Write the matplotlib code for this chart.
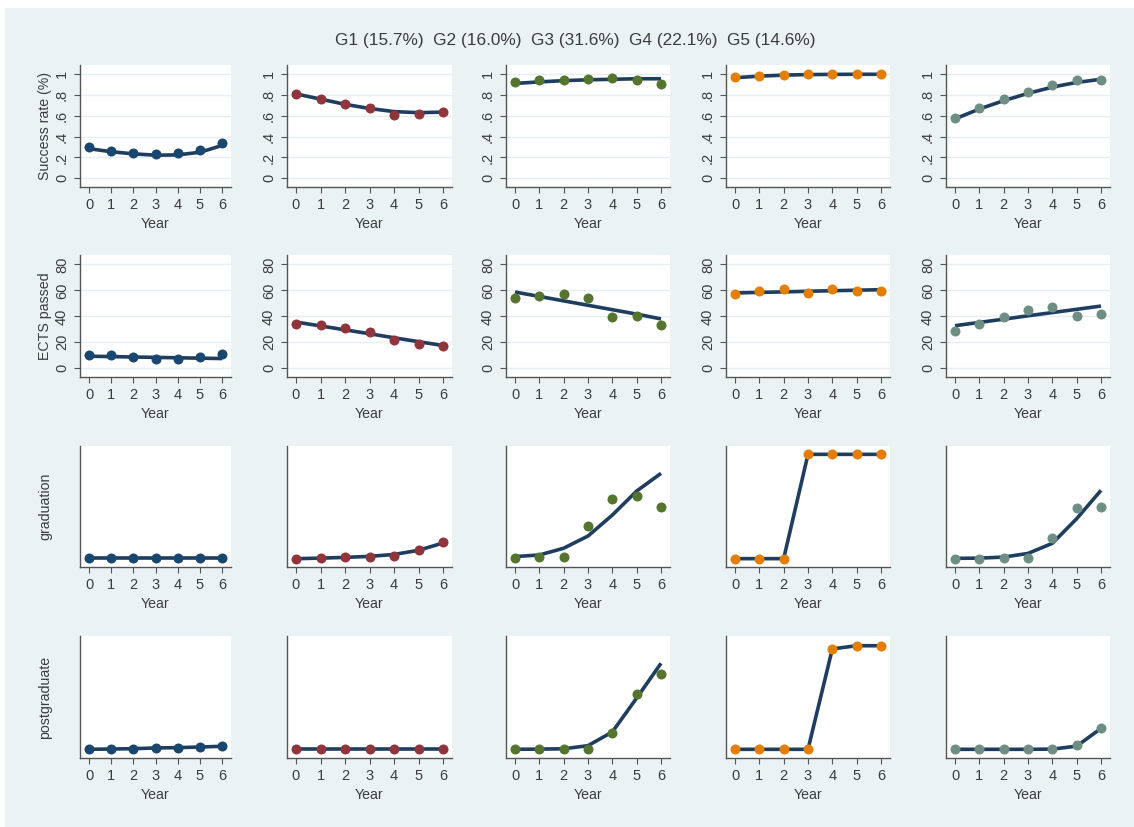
import matplotlib
matplotlib.use("Agg")
import matplotlib.pyplot as plt
from matplotlib.patches import Rectangle

plt.rcParams.update({"font.family": ["Liberation Sans", "DejaVu Sans"],
                     "font.size": 9})

BG = "#eaf2f3"; INK = "#3c3c3c"; FIT = "#1f3d5e"
years = [0, 1, 2, 3, 4, 5, 6]
groups = ["G1", "G2", "G3", "G4", "G5"]
shares = [15.7, 16.0, 31.6, 22.1, 14.6]
group_colors = ["#1a476f", "#90353b", "#55752f", "#e37e00", "#6e8e84"]

# observed means (points) and fitted values (line), one row per group
success_obs = [[0.30, 0.265, 0.245, 0.233, 0.245, 0.27, 0.34],
               [0.81, 0.763, 0.712, 0.674, 0.607, 0.62, 0.639],
               [0.926, 0.94, 0.945, 0.949, 0.959, 0.945, 0.907],
               [0.974, 0.984, 0.99, 0.998, 1.0, 0.999, 0.999],
               [0.574, 0.676, 0.757, 0.824, 0.891, 0.939, 0.945]]
success_fit = [[0.285, 0.255, 0.235, 0.222, 0.225, 0.25, 0.315],
               [0.81, 0.76, 0.71, 0.67, 0.64, 0.63, 0.635],
               [0.91, 0.925, 0.937, 0.945, 0.95, 0.955, 0.955],
               [0.965, 0.98, 0.99, 0.995, 0.997, 0.998, 0.998],
               [0.57, 0.665, 0.745, 0.815, 0.875, 0.92, 0.95]]

ects_obs = [[10.5, 10.0, 8.7, 7.4, 7.4, 8.7, 11.2],
            [34.3, 33.3, 31.0, 27.9, 22.0, 18.7, 17.2],
            [53.8, 55.8, 56.9, 53.8, 39.7, 40.0, 33.0],
            [57.4, 59.2, 60.8, 58.2, 60.8, 59.6, 59.6],
            [28.7, 34.1, 39.7, 44.8, 47.2, 40.5, 41.5]]
ects_fit = [[9.3, 9.0, 8.7, 8.4, 8.1, 7.8, 7.5],
            [35.6, 32.6, 29.6, 26.6, 23.5, 20.5, 17.5],
            [58.7, 55.3, 51.9, 48.5, 45.1, 41.7, 38.0],
            [58.0, 58.4, 58.8, 59.3, 59.7, 60.1, 60.5],
            [32.8, 35.3, 37.8, 40.4, 42.9, 45.4, 47.9]]

grad_obs = [[0.003, 0.003, 0.003, 0.003, 0.003, 0.003, 0.003],
            [0.0, 0.003, 0.013, 0.019, 0.026, 0.08, 0.16],
            [0.01, 0.013, 0.013, 0.313, 0.569, 0.604, 0.495],
            [0.0, 0.0, 0.0, 1.0, 1.0, 1.0, 1.0],
            [0.0, 0.0, 0.006, 0.006, 0.198, 0.485, 0.50]]
grad_fit = [[0.003, 0.003, 0.003, 0.003, 0.003, 0.003, 0.003],
            [0.0, 0.005, 0.012, 0.022, 0.04, 0.08, 0.15],
            [0.02, 0.035, 0.10, 0.217, 0.418, 0.648, 0.818],
            [0.0, 0.0, 0.0, 1.0, 1.0, 1.0, 1.0],
            [0.003, 0.005, 0.015, 0.05, 0.147, 0.383, 0.655]]

post_obs = [[0.0, 0.003, 0.006, 0.013, 0.016, 0.022, 0.029],
            [0.0, 0.0, 0.0, 0.0, 0.0, 0.0, 0.0],
            [0.0, 0.0, 0.003, 0.006, 0.159, 0.526, 0.723],
            [0.0, 0.0, 0.0, 0.0, 0.96, 0.99, 0.99],
            [0.0, 0.0, 0.0, 0.0, 0.0, 0.038, 0.20]]
post_fit = [[0.0, 0.003, 0.006, 0.013, 0.016, 0.022, 0.029],
            [0.0, 0.0, 0.0, 0.0, 0.0, 0.0, 0.0],
            [0.0, 0.002, 0.005, 0.035, 0.166, 0.49, 0.822],
            [0.0, 0.0, 0.0, 0.0, 0.96, 0.99, 0.99],
            [0.0, 0.0, 0.0, 0.0, 0.002, 0.03, 0.20]]

rows = [("Success rate (%)", success_obs, success_fit, (-0.083, 1.087),
         [0, 0.2, 0.4, 0.6, 0.8, 1], ["0", ".2", ".4", ".6", ".8", "1"]),
        ("ECTS passed", ects_obs, ects_fit, (-6.7, 87.2),
         [0, 20, 40, 60, 80], ["0", "20", "40", "60", "80"]),
        ("graduation", grad_obs, grad_fit, (-0.08, 1.08), [], []),
        ("postgraduate", post_obs, post_fit, (-0.083, 1.083), [], [])]

W, H = 1134, 827
fig = plt.figure(figsize=(W / 100, H / 100), dpi=100)
fig.patch.set_facecolor("white")
fig.patches.append(Rectangle((5 / W, 0), 1 - 5 / W, 1 - 8 / H,
                             transform=fig.transFigure, facecolor=BG,
                             edgecolor="none", zorder=-10))

# plot-region boxes in pixels
col_x = [(80, 231), (287, 452), (506, 670), (726, 890), (946, 1110)]
row_y = [(65, 187), (255, 377), (446, 567), (636, 758)]

for r, (ytitle, obs, fit, ylim, yt, ytl) in enumerate(rows):
    y0, y1 = row_y[r]
    for c in range(5):
        x0, x1 = col_x[c]
        ax = fig.add_axes([x0 / W, 1 - y1 / H, (x1 - x0) / W, (y1 - y0) / H])
        ax.set_facecolor("white")
        ax.plot(years, fit[c], color=FIT, lw=2.6, zorder=3,
                solid_capstyle="butt")
        ax.plot(years, obs[c], "o", color=group_colors[c], ms=7.2,
                mec="none", zorder=4)
        pad = 9 / ((x1 - x0 - 18) / 6)
        ax.set_xlim(-pad, 6 + pad)
        ax.set_ylim(*ylim)
        ax.set_xticks(years)
        ax.set_yticks(yt)
        ax.set_yticklabels(ytl, rotation=90, va="center")
        if yt:
            ax.grid(axis="y", color="#e6eef0", lw=1)
            ax.set_axisbelow(True)
        for s in ("top", "right"):
            ax.spines[s].set_visible(False)
        for s in ("left", "bottom"):
            ax.spines[s].set_color("#555555")
            ax.spines[s].set_linewidth(1.0)
        ax.tick_params(colors="#555555", labelcolor=INK, length=4,
                       width=0.8, labelsize=10.5, pad=4)
        ax.set_xlabel("Year", fontsize=10.2, color=INK, labelpad=3.5)
        if c == 0:
            fig.text(45 / W, 1 - (y0 + y1) / 2 / H, ytitle, rotation=90,
                     ha="center", va="center", fontsize=10.2, color=INK)

title = "  ".join(f"{g} ({s:.1f}%)" for g, s in zip(groups, shares))
fig.text(575 / W, 1 - 40 / H, title, ha="center", va="center",
         fontsize=12.4, color=INK)

fig.savefig("out.png", dpi=100, facecolor=fig.get_facecolor())
